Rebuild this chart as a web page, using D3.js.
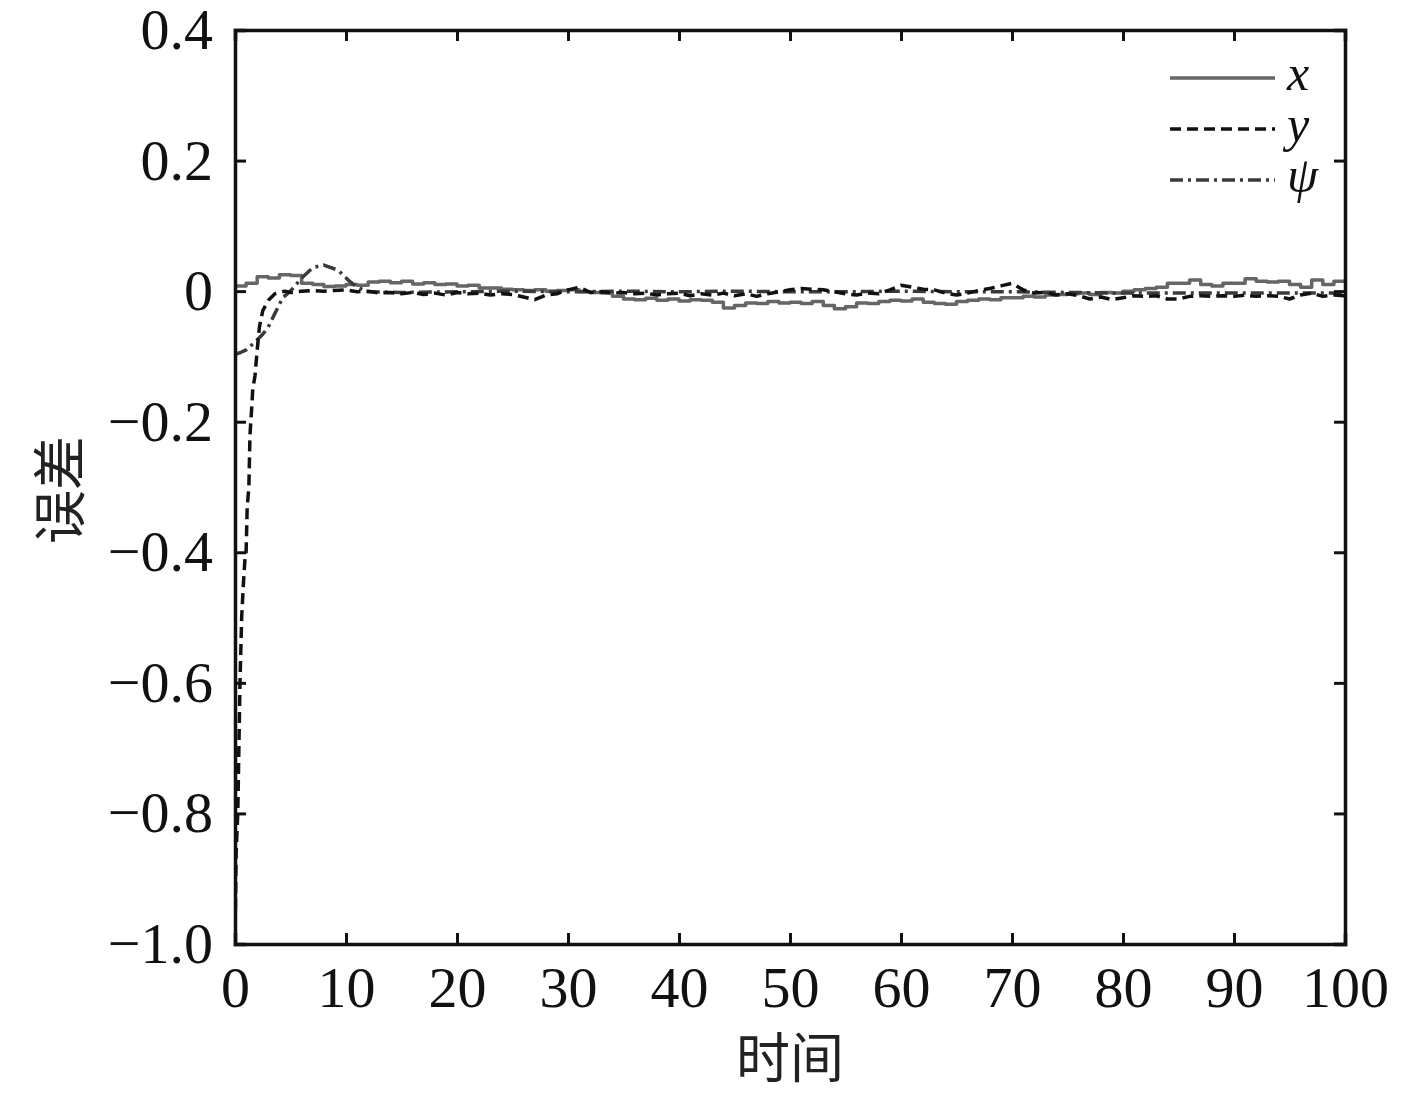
<!DOCTYPE html>
<html>
<head>
<meta charset="utf-8">
<script src="https://cdn.jsdelivr.net/npm/d3@7"></script>
<style>
  html, body { margin: 0; padding: 0; background: #fff; }
  svg { display: block; }
  .tick-label { font-family: "Liberation Serif", "Times New Roman", serif; font-size: 58px; fill: #111; }
  .axis-title { font-family: "Noto Sans CJK SC", sans-serif; font-size: 54px; fill: #222; }
  .legend-label { font-family: "Liberation Serif", "Times New Roman", serif; font-style: italic; font-size: 50px; fill: #111; }
</style>
</head>
<body>
<svg id="chart"></svg>
<script>
// 坐标轴刻度
const xTicks = [0, 10, 20, 30, 40, 50, 60, 70, 80, 90, 100];
const yTicks = [0.4, 0.2, 0, -0.2, -0.4, -0.6, -0.8, -1.0];
const yTickLabels = ['0.4', '0.2', '0', '\u22120.2', '\u22120.4', '\u22120.6', '\u22120.8', '\u22121.0'];

// 系列 x（灰色实线）
const xErrT = [0,1,2,3,4,5,6,7,8,9,10,11,12,13,14,15,16,17,18,19,20,21,22,23,24,25,26,27,28,29,30,
  31,32,33,34,35,36,37,38,39,40,41,42,43,44,45,46,47,48,49,50,51,52,53,54,55,56,57,58,59,60,
  61,62,63,64,65,66,67,68,69,70,71,72,73,74,75,76,77,78,79,80,81,82,83,84,85,86,87,88,89,90,
  91,92,93,94,95,96,97,98,99,100];
const xErrV = [0.008,0.012,0.022,0.020,0.025,0.024,0.012,0.010,0.007,0.008,0.010,0.009,0.014,0.015,0.013,0.015,0.011,0.013,0.010,0.011,0.008,
  0.009,0.005,0.005,0.003,0.002,0.001,0.002,0.000,0.001,0.002,
  -0.001,-0.002,-0.003,-0.008,-0.012,-0.013,-0.011,-0.014,-0.012,-0.015,
  -0.013,-0.014,-0.017,-0.026,-0.022,-0.018,-0.019,-0.016,-0.018,-0.017,
  -0.019,-0.016,-0.022,-0.027,-0.024,-0.018,-0.019,-0.016,-0.014,-0.015,
  -0.012,-0.017,-0.019,-0.020,-0.016,-0.014,-0.012,-0.013,-0.010,-0.010,
  -0.008,-0.009,-0.006,-0.005,-0.004,-0.003,-0.005,-0.002,-0.003,0.000,
  0.002,0.004,0.006,0.012,0.012,0.017,0.010,0.008,0.012,0.012,
  0.019,0.015,0.014,0.015,0.010,0.006,0.017,0.010,0.015,0.014];

// 系列 y（黑色虚线）
const yErrT = [0,0.1,0.25,0.45,0.6,0.75,0.9,1.0,1.1,1.25,1.35,1.5,1.6,1.8,2.0,2.2,2.5,3.0,3.6,4.5,
  5,6,7,8,9,10,11,12,13,14,15,16,17,18,19,20,21,22,23,24,25,26,27,28,29,30,
  31,32,33,34,35,36,37,38,39,40,41,42,43,44,45,46,47,48,49,50,51,52,53,54,55,56,57,58,59,60,
  61,62,63,64,65,66,67,68,69,70,71,72,73,74,75,76,77,78,79,80,81,82,83,84,85,86,87,88,89,90,
  91,92,93,94,95,96,97,98,99,100];
const yErrV = [-1.0,-0.86,-0.8,-0.6,-0.5,-0.45,-0.41,-0.40,-0.33,-0.30,-0.22,-0.18,-0.15,-0.13,-0.09,-0.055,-0.03,-0.014,-0.004,0.0,
  -0.002,0.000,0.001,0.000,0.001,0.002,-0.001,0.000,-0.003,-0.002,-0.004,-0.002,-0.005,-0.003,-0.006,-0.002,
  -0.004,-0.003,-0.006,-0.004,-0.005,-0.009,-0.013,-0.006,-0.004,0.002,
  0.006,-0.002,-0.001,-0.003,-0.002,-0.004,-0.003,-0.006,-0.004,-0.003,
  -0.007,-0.004,-0.006,-0.003,-0.007,-0.004,-0.008,-0.004,-0.001,0.002,
  0.004,0.003,0.002,-0.001,-0.004,-0.006,-0.003,-0.004,0.002,0.009,
  0.006,0.003,0.002,-0.003,-0.006,-0.003,0.001,0.004,0.008,0.012,
  0.002,-0.003,-0.002,-0.006,-0.004,-0.007,-0.012,-0.009,-0.013,-0.010,
  -0.007,-0.008,-0.007,-0.012,-0.012,-0.008,-0.007,-0.008,-0.007,-0.008,
  -0.006,-0.008,-0.007,-0.008,-0.012,-0.006,-0.003,-0.008,-0.006,-0.007];

// 系列 ψ（点划线）
const psiErrT = [0,0.5,1,1.8,2.5,3,3.6,4.3,5.1,6,7,8,9.3,10.2,11,12,15,20,25,30,35,40,45,50,55,60,65,70,75,80,85,90,95,100];
const psiErrV = [-0.097,-0.094,-0.09,-0.078,-0.066,-0.055,-0.034,-0.01,0.002,0.02,0.036,0.04,0.032,0.017,0.006,-0.001,
  -0.002,-0.001,0.000,-0.001,0.000,-0.001,0.000,-0.001,-0.001,0.000,-0.001,-0.001,-0.002,-0.003,-0.003,-0.003,-0.003,-0.003];

const seriesNames = ['x', 'y', '\u03c8'];
const seriesColors = ['#666666', '#111111', '#3a3a3a'];
const seriesDash = [null, '11,6', '13,5,3,5'];
const seriesCurve = [d3.curveStepAfter, d3.curveLinear, d3.curveLinear];

const W = 1417, H = 1093;
const margin = { left: 235, right: 72, top: 30, bottom: 149 };

const svg = d3.select('#chart').attr('width', W).attr('height', H);

const x = d3.scaleLinear().domain([0, 100]).range([margin.left, W - margin.right]);
const y = d3.scaleLinear().domain([-1.0, 0.4]).range([H - margin.bottom, margin.top]);

svg.append('defs').append('clipPath').attr('id', 'plot-clip')
  .append('rect')
  .attr('x', x(0)).attr('y', y(0.4))
  .attr('width', x(100) - x(0)).attr('height', y(-1.0) - y(0.4));

// 曲线
const series = [
  { t: xErrT, v: xErrV },
  { t: yErrT, v: yErrV },
  { t: psiErrT, v: psiErrV }
];

const plot = svg.append('g').attr('clip-path', 'url(#plot-clip)');

[0, 2, 1].forEach(i => {
  const pts = series[i].t.map((t, k) => [t, series[i].v[k]]);
  const line = d3.line().x(d => x(d[0])).y(d => y(d[1])).curve(seriesCurve[i]);
  plot.append('path')
    .datum(pts)
    .attr('fill', 'none')
    .attr('stroke', seriesColors[i])
    .attr('stroke-width', 3.5)
    .attr('stroke-linejoin', 'round')
    .attr('stroke-dasharray', seriesDash[i])
    .attr('d', line);
});

// 坐标轴（刻度朝内）
const tickLen = 11;
const axisLeft = d3.axisLeft(y).tickValues(yTicks).tickSize(-tickLen).tickFormat((d, i) => yTickLabels[i]).tickPadding(22);
const axisRight = d3.axisRight(y).tickValues(yTicks).tickSize(-tickLen).tickFormat('');
const axisBottom = d3.axisBottom(x).tickValues(xTicks).tickSize(-tickLen).tickFormat(d3.format('d')).tickPadding(22);
const axisTop = d3.axisTop(x).tickValues(xTicks).tickSize(-tickLen).tickFormat('');

function styleAxis(g) {
  g.select('.domain').attr('stroke', '#111').attr('stroke-width', 3.5);
  g.selectAll('.tick line').attr('stroke', '#111').attr('stroke-width', 3);
  g.selectAll('.tick text').attr('class', 'tick-label').attr('fill', '#111');
  g.attr('font-family', null).attr('font-size', null);
}

svg.append('g').attr('transform', `translate(${x(0)},0)`).call(axisLeft).call(styleAxis);
svg.append('g').attr('transform', `translate(${x(100)},0)`).call(axisRight).call(styleAxis);
svg.append('g').attr('transform', `translate(0,${y(-1.0)})`).call(axisBottom).call(styleAxis);
svg.append('g').attr('transform', `translate(0,${y(0.4)})`).call(axisTop).call(styleAxis);

// 轴标题
svg.append('text').attr('class', 'axis-title')
  .attr('x', 790).attr('y', 1078).attr('text-anchor', 'middle').text('时间');
svg.append('text').attr('class', 'axis-title')
  .attr('transform', 'translate(80,490) rotate(-90)').attr('text-anchor', 'middle').text('误差');

// 图例
const legendY = [78, 129, 180];
const legend = svg.append('g');
seriesNames.forEach((name, i) => {
  legend.append('line')
    .attr('x1', 1170).attr('x2', 1275)
    .attr('y1', legendY[i]).attr('y2', legendY[i])
    .attr('stroke', seriesColors[i])
    .attr('stroke-width', 3.5)
    .attr('stroke-dasharray', seriesDash[i]);
  legend.append('text').attr('class', 'legend-label')
    .attr('x', 1287).attr('y', legendY[i] + 12)
    .text(name);
});
</script>
</body>
</html>
